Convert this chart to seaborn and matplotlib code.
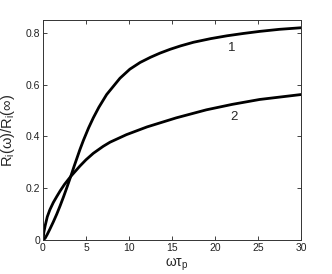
import numpy as np
import pandas as pd
import matplotlib
matplotlib.use("Agg")
import matplotlib.pyplot as plt
import seaborn as sns

# curve 1 (sigmoid-like) and curve 2 (sqrt-like)
x1 = [0, 0.25, 0.5, 0.8, 1.2, 1.6, 2.0, 2.4, 2.8, 3.26, 3.6, 4.3, 4.7, 5.3, 5.85, 6.5,
      7.4, 8.95, 10.1, 11.3, 12.5, 13.6, 14.8, 16, 17.5, 19.5, 21.4, 23.3, 25.2, 27.5, 30]
y1 = [0, 0.007, 0.022, 0.042, 0.07, 0.1, 0.133, 0.168, 0.205, 0.249, 0.283, 0.35, 0.385, 0.433, 0.472, 0.513,
      0.562, 0.625, 0.66, 0.686, 0.706, 0.722, 0.737, 0.75, 0.764, 0.778, 0.789, 0.798, 0.806, 0.814, 0.82]
x2 = [0, 0.1, 0.25, 0.5, 0.8, 1.2, 1.6, 2.0, 2.5, 3.26, 4.3, 5.0, 5.85, 7.0, 7.8, 9.7, 12.1, 15.5,
      19, 22, 25.2, 30]
y2 = [0, 0.03, 0.055, 0.09, 0.117, 0.145, 0.168, 0.19, 0.215, 0.247, 0.286, 0.31, 0.335, 0.362, 0.378, 0.407, 0.437, 0.472,
      0.503, 0.524, 0.543, 0.562]
labels = ["1", "2"]
label_pos = [(21.9, 0.74), (22.2, 0.475)]

sns.set_theme(style="ticks")
plt.rcParams["font.family"] = ["Liberation Sans", "DejaVu Sans"]
plt.rcParams["mathtext.fontset"] = "custom"
plt.rcParams["mathtext.rm"] = "Liberation Sans"
plt.rcParams["mathtext.it"] = "Liberation Sans"

df = pd.concat([
    pd.DataFrame({"x": x1, "y": y1, "curve": "1"}),
    pd.DataFrame({"x": x2, "y": y2, "curve": "2"}),
])

fig = plt.figure(figsize=(3.32, 2.74), dpi=100)
ax = fig.add_axes([0.1295, 0.124, 0.777, 0.803])
sns.lineplot(data=df, x="x", y="y", units="curve", estimator=None, sort=False,
             color="black", linewidth=2, ax=ax, legend=False)
for line in ax.lines:
    line.set_solid_joinstyle("round")

for lab, (lx, ly) in zip(labels, label_pos):
    ax.text(lx, ly, lab, fontsize=9.5, ha="center", va="center")

ax.set_xlim(0, 30)
ax.set_ylim(0, 0.85)
ax.set_xticks([0, 5, 10, 15, 20, 25, 30])
ax.set_yticks([0, 0.2, 0.4, 0.6, 0.8])
ax.set_yticklabels(["0", "0.2", "0.4", "0.6", "0.8"])
ax.tick_params(direction="in", length=3, width=0.6, labelsize=7.5, colors="#222222",
               top=True, right=True, pad=2)
for s in ax.spines.values():
    s.set_visible(True)
    s.set_linewidth(0.7)
    s.set_color("#333333")
ax.set_xlabel(r"$\mathregular{\omega\tau_p}$", fontsize=10)
ax.set_ylabel(r"$\mathregular{R_i(\omega)/R_i(\infty)}$", fontsize=10.5)
ax.xaxis.set_label_coords(0.52, -0.075)
ax.yaxis.set_label_coords(-0.1, 0.5)

fig.savefig("out.png", dpi=100)
